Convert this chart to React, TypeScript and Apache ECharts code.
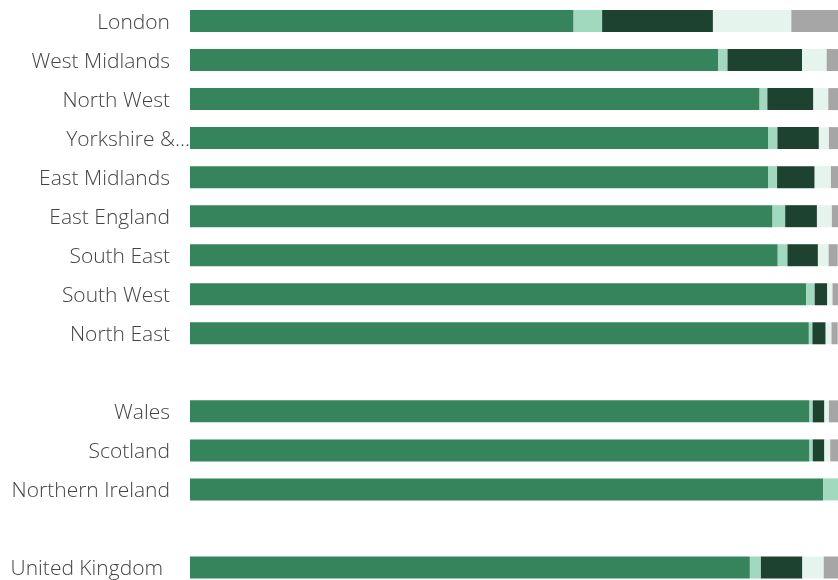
import React, { useEffect, useRef } from "react";
import * as echarts from "echarts";

const categories = [
  "London", "West Midlands", "North West", "Yorkshire &…", "East Midlands",
  "East England", "South East", "South West", "North East", "",
  "Wales", "Scotland", "Northern Ireland", "", "United Kingdom",
];
const seriesNames = ["A", "B", "C", "D", "E"];
const valuesA = [59.2, 81.5, 87.9, 89.2, 89.2, 89.9, 90.7, 95.1, 95.5, null, 95.6, 95.6, 97.7, null, 86.4];
const valuesB = [4.4, 1.45, 1.2, 1.45, 1.4, 1.95, 1.5, 1.3, 0.55, null, 0.5, 0.5, 2.3, null, 1.7];
const valuesC = [17.1, 11.5, 7.1, 6.4, 5.8, 4.9, 4.7, 1.95, 2.05, null, 1.8, 1.8, 0, null, 6.4];
const valuesD = [12.1, 3.8, 2.3, 1.55, 2.5, 2.3, 1.65, 0.8, 0.9, null, 0.7, 0.9, 0, null, 3.3];
const valuesE = [7.3, 1.75, 1.5, 1.4, 1.1, 1.0, 1.4, 0.9, 0.95, null, 1.4, 1.2, 0, null, 2.2];
const colors = ["#36845B", "#A1D9BE", "#1D4230", "#E6F4EE", "#A6A6A6"];

const font = { fontFamily: "Open Sans", fontSize: 21, fontWeight: 300, color: "#444444" };

export default function App() {
  const ref = useRef<HTMLDivElement>(null);
  useEffect(() => {
    if (!ref.current) return;
    const chart = echarts.init(ref.current, undefined, { renderer: "svg" });
    const all = [valuesA, valuesB, valuesC, valuesD, valuesE];
    chart.setOption({
      animation: false,
      grid: { left: 190, right: 0, top: 1.5, bottom: 0 },
      xAxis: { type: "value", min: 0, max: 100, show: false },
      yAxis: {
        type: "category",
        data: categories,
        inverse: true,
        axisLine: { show: false },
        axisTick: { show: false },
        axisLabel: {
          margin: 0,
          ...font,
          formatter: (v: string) => {
            if (!v) return "";
            if (v === "Yorkshire &…") return "{y|" + v + "}";
            if (v === "United Kingdom") return "{u|" + v + "}";
            return "{n|" + v + "}";
          },
          rich: {
            n: { padding: [0, 20, 0, 0], ...font },
            y: { padding: [0, 0, 0, 0], ...font },
            u: { padding: [0, 27, 0, 0], ...font },
          },
        },
      },
      series: all.map((d, i) => ({
        name: seriesNames[i],
        type: "bar",
        stack: "total",
        barWidth: 22,
        data: d,
        itemStyle: { color: colors[i] },
      })),
    });
    return () => chart.dispose();
  }, []);
  return (
    <div
      ref={ref}
      style={{ position: "fixed", left: 0, top: 0, width: 838, height: 586.5 }}
    />
  );
}
